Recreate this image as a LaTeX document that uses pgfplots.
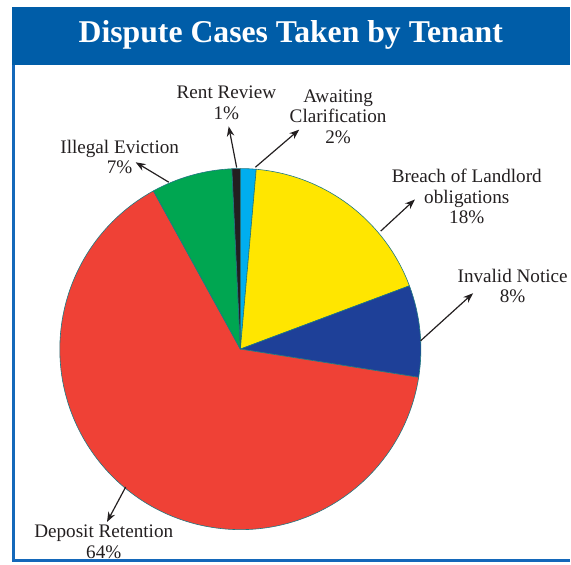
\documentclass[border=0pt]{standalone}
\usepackage{fontspec}
\setmainfont{Liberation Serif}
\usepackage{pgfplots}
\usepackage{pgfplotstable}
\pgfplotsset{compat=1.18}
\usetikzlibrary{arrows.meta}
\definecolor{cBlue}{RGB}{0,174,239}
\definecolor{cYellow}{RGB}{255,230,0}
\definecolor{cNavy}{RGB}{30,64,152}
\definecolor{cRed}{RGB}{239,65,54}
\definecolor{cGreen}{RGB}{0,166,81}
\definecolor{cBlack}{RGB}{35,31,32}
\definecolor{pieedge}{RGB}{30,120,130}
\definecolor{titleblue}{RGB}{0,93,168}
\definecolor{borderblue}{RGB}{20,104,186}
\definecolor{txt}{RGB}{35,31,32}
\tikzset{
  lbl/.style={font=\fontsize{19.2}{20.5}\selectfont, text=txt, align=center, inner sep=0pt},
  arr/.style={draw=txt, line width=1.2pt, -{Stealth[length=10pt,width=7.5pt]}},
}

\pgfplotstableread{
label value col
Awaiting 1.4 cBlue
Breach 17.9 cYellow
Invalid 8.2 cNavy
Deposit 64.5 cRed
Illegal 7.25 cGreen
Rent 0.75 cBlack
}\piedata

\begin{document}
\begin{tikzpicture}
\begin{axis}[
  hide axis, scale only axis, clip=false,
  width=571pt, height=566pt,
  xmin=0, xmax=571, ymin=0, ymax=566,
  anchor=origin, at={(0,0)},
]
\path (axis cs:0,0) rectangle (axis cs:571,566);
% pie
\def\angA{90}
\pgfplotsforeachungrouped \i in {0,...,5}{%
  \pgfplotstablegetelem{\i}{value}\of\piedata \let\v\pgfplotsretval
  \pgfplotstablegetelem{\i}{col}\of\piedata \let\c\pgfplotsretval
  \pgfmathsetmacro\angB{\angA-3.6*\v}%
  \edef\temp{\noexpand\filldraw[fill=\c, draw=pieedge, line width=0.6pt, line join=round] (axis cs:241,216) -- ++(\angA:181pt) arc[start angle=\angA, end angle=\angB, radius=181pt] -- cycle;}%
  \temp
  \let\angA\angB
}
% title bar and border
\fill[titleblue] (axis cs:12,501) rectangle (axis cs:571,559);
\node[text=white, anchor=base, inner sep=0pt, font=\bfseries\fontsize{31.8}{34}\selectfont] at (axis cs:291.5,523) {Dispute Cases Taken by Tenant};
\draw[borderblue, line width=3pt] (axis cs:13.5,501) -- (axis cs:13.5,4.5) -- (axis cs:571,4.5);
% arrows
\draw[arr] (axis cs:237.3,398) -- (axis cs:229.3,439.3);
\draw[arr] (axis cs:256,398.3) -- (axis cs:300,436);
\draw[arr] (axis cs:381.7,334.3) -- (axis cs:416,366);
\draw[arr] (axis cs:421.7,224.3) -- (axis cs:474.3,272);
\draw[arr] (axis cs:169.3,383.3) -- (axis cs:136,403.3);
\draw[arr] (axis cs:126,77.7) -- (axis cs:107.3,42.7);
% labels
\node[lbl] at (axis cs:227,463) {Rent Review\\1\%};
\node[lbl] at (axis cs:339,449) {Awaiting\\Clarification\\2\%};
\node[lbl] at (axis cs:468,369) {Breach of Landlord\\obligations\\18\%};
\node[lbl] at (axis cs:514,279.5) {Invalid Notice\\8\%};
\node[lbl] at (axis cs:120,408.5) {Illegal Eviction\\7\%};
\node[lbl] at (axis cs:104,23) {Deposit Retention\\64\%};
\end{axis}
\end{tikzpicture}
\end{document}
